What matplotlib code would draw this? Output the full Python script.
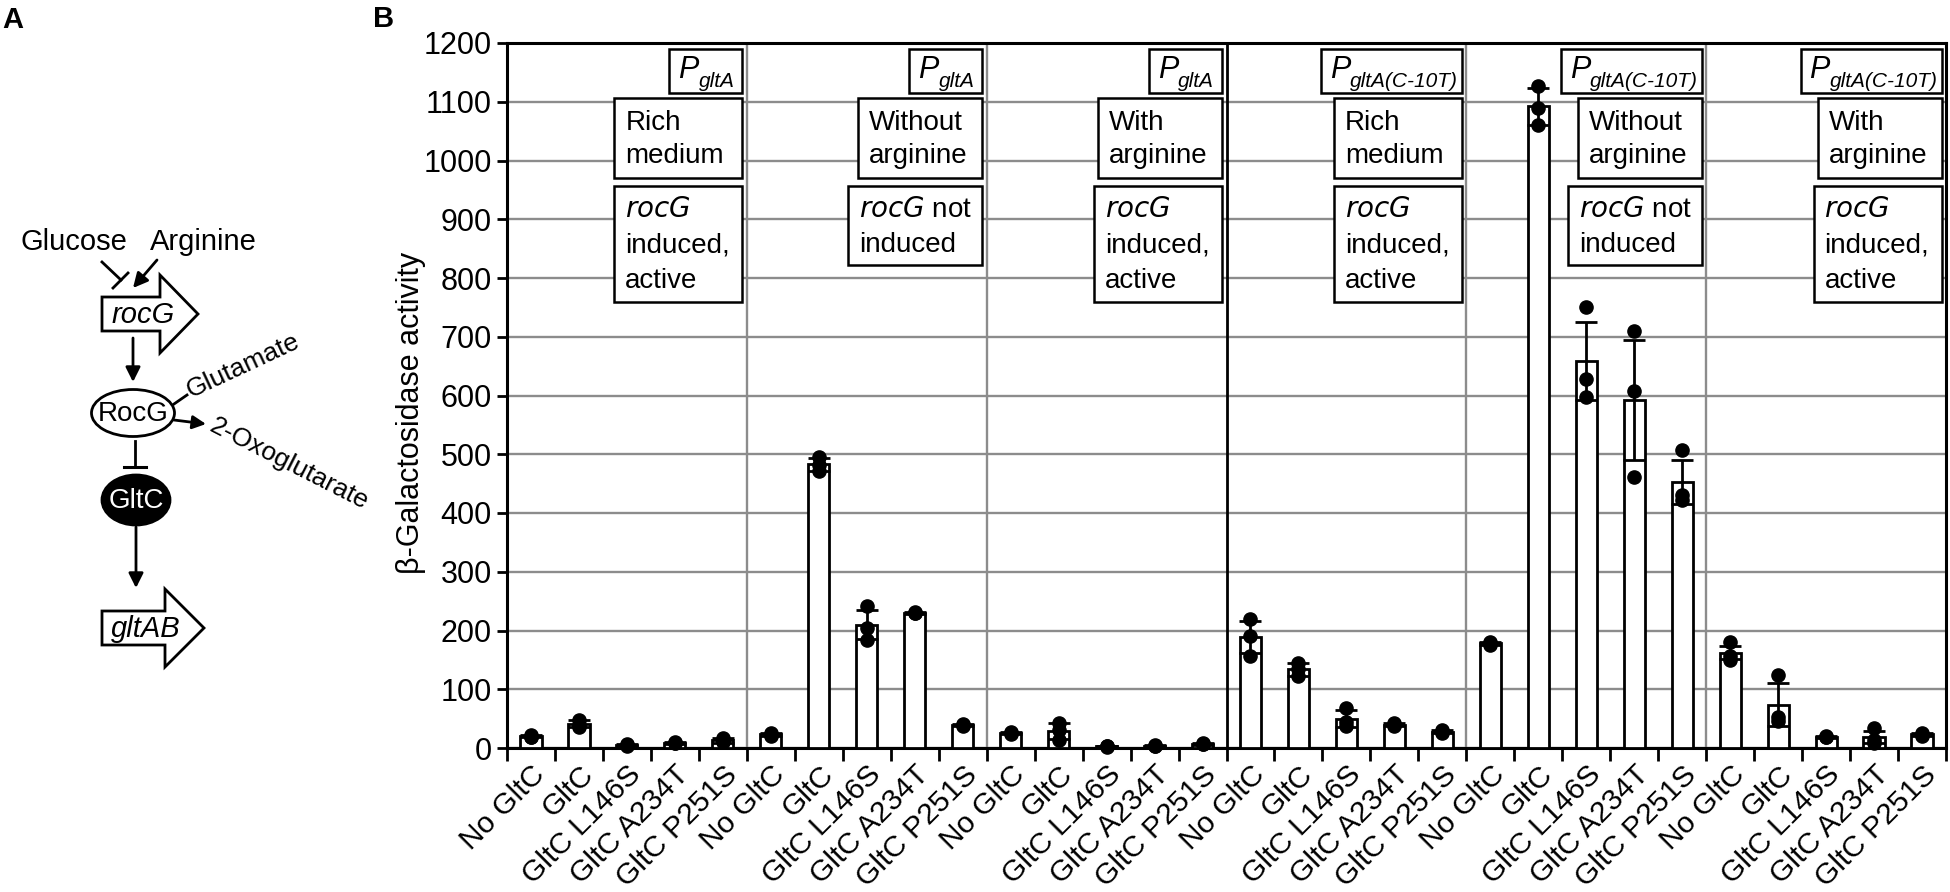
import matplotlib
matplotlib.use('Agg')
import matplotlib.pyplot as plt
from matplotlib.patches import Rectangle, Ellipse, Polygon
import numpy as np

plt.rcParams['font.family'] = ['Liberation Sans', 'DejaVu Sans']

# ---- data ----
strains = ['No GltC', 'GltC', 'GltC L146S', 'GltC A234T', 'GltC P251S']
promoters = ['gltA', 'gltA', 'gltA', 'gltA(C-10T)', 'gltA(C-10T)', 'gltA(C-10T)']
conditions = [['Rich', 'medium'], ['Without', 'arginine'], ['With', 'arginine'],
              ['Rich', 'medium'], ['Without', 'arginine'], ['With', 'arginine']]
rocg_induced = [True, False, True, True, False, True]

means = [20, 41, 5, 9, 13,
         23, 483, 210, 230, 39,
         25, 29, 3, 4, 7,
         189, 134, 50, 40, 28,
         178, 1092, 659, 593, 453,
         162, 74, 19, 19, 23]
errs = [2, 6, 1, 2, 4,
        3, 11, 25, 2, 2,
        2, 14, 1, 1, 2,
        28, 11, 15, 3, 2,
        2, 32, 66, 102, 37,
        11, 36, 2, 10, 3]
reps = [[22, 18, 19], [47, 40, 36], [6, 4, 5], [11, 8, 8], [17, 12, 10],
        [26, 22, 21], [496, 481, 472], [242, 204, 184], [232, 229, 229], [41, 37, 39],
        [27, 23, 25], [43, 30, 14], [3, 4, 2], [5, 4, 3], [9, 6, 6],
        [220, 190, 157], [145, 135, 122], [68, 45, 37], [38, 40, 42], [26, 30, 28],
        [176, 178, 180], [1127, 1090, 1060], [750, 628, 598], [709, 607, 462], [507, 430, 422],
        [180, 157, 149], [124, 52, 46], [18, 20, 18], [34, 14, 9], [25, 22, 21]]
yticks = list(range(0, 1201, 100))

W, H = 1950, 892
fig = plt.figure(figsize=(W / 100, H / 100), dpi=100)

# chart area in pixels
AX_L, AX_R, AX_T, AX_B = 507, 1946, 43, 748
ax = fig.add_axes([AX_L / W, 1 - AX_B / H, (AX_R - AX_L) / W, (AX_B - AX_T) / H])

# overlay in pixel coordinates (panel A + condition boxes)
pa = fig.add_axes([0, 0, 1, 1], zorder=5)
pa.set_xlim(0, W)
pa.set_ylim(H, 0)
pa.axis('off')

# ---- panel B: bars ----
n = len(means)
x = np.arange(n) + 0.5
labels = strains * 6
grey = '#8c8c8c'

ax.set_xlim(0, n)
ax.set_ylim(0, 1200)
ax.bar(x, means, width=0.44, color='white', edgecolor='black', linewidth=2, zorder=3)
ax.errorbar(x, means, yerr=errs, fmt='none', ecolor='black', elinewidth=2,
            capsize=8, capthick=2, zorder=4)
for i, r in enumerate(reps):
    ax.plot([x[i]] * len(r), r, 'o', color='black', ms=9.5, zorder=5, clip_on=False)

ax.set_yticks(yticks)
ax.yaxis.grid(True, color=grey, linewidth=1.7)
ax.set_axisbelow(True)
for k in range(1, 6):
    if k == 3:
        ax.axvline(5 * k, color='black', linewidth=2.0, zorder=2)
    else:
        ax.axvline(5 * k, color=grey, linewidth=1.7, zorder=1)

ax.set_xticks(x)
ax.set_xticklabels(labels, rotation=45, ha='right', rotation_mode='anchor', fontsize=21.5)
ax.tick_params(axis='x', which='major', length=0, pad=9)
ax.set_xticks(np.arange(n + 1), minor=True)
ax.tick_params(axis='x', which='minor', length=9, width=2, direction='out')
ax.tick_params(axis='y', length=7, width=2, labelsize=22, pad=4)
for s in ax.spines.values():
    s.set_linewidth(2.2)
    s.set_color('black')

fig.text(411 / W, 1 - 413 / H, 'β-Galactosidase activity', rotation=90,
         ha='center', va='center', fontsize=22)

fig.text(2 / W, 1 - 28 / H, 'A', fontsize=21, fontweight='bold', va='baseline')
fig.text(373 / W, 1 - 27 / H, 'B', fontsize=21, fontweight='bold', va='baseline')

# ---- condition boxes ----
slot = (AX_R - AX_L) / n


def box(x0, y0, x1, y1):
    pa.add_patch(Rectangle((x0, y0), x1 - x0, y1 - y0, facecolor='white',
                           edgecolor='black', linewidth=1.8, zorder=3))


for g in range(6):
    right = AX_L + slot * 5 * (g + 1) - 4.5
    # promoter
    pw = 73 if promoters[g] == 'gltA' else 141
    box(right - pw, 49, right, 93)
    ptxt = pa.text(right - pw + 9, 78, 'P', fontsize=22, style='italic',
                   va='baseline', ha='left', zorder=4)
    pa.annotate(promoters[g], xy=(1, 0), xycoords=ptxt, xytext=(0, -4),
                textcoords='offset points', fontsize=15, style='italic',
                va='bottom', ha='left', zorder=4)
    # growth condition
    cw = 128 if conditions[g][0] == 'Rich' else 124
    box(right - cw, 98, right, 178)
    for j, line in enumerate(conditions[g]):
        pa.text(right - cw + 11, 130 + 33 * j, line, fontsize=20,
                va='baseline', ha='left', zorder=4)
    # rocG state
    if rocg_induced[g]:
        lines = [r'$\mathit{rocG}$', 'induced,', 'active']
        rw, rb = 128, 302
    else:
        lines = [r'$\mathit{rocG}$ not', 'induced']
        rw, rb = 134, 265
    box(right - rw, 186, right, rb)
    for j, line in enumerate(lines):
        pa.text(right - rw + 11, 217 + 35.5 * j, line, fontsize=20,
                va='baseline', ha='left', zorder=4)

# ---- panel A: regulation scheme ----
k = 'black'


def arrow(start, tip, scale=22):
    pa.annotate('', xy=tip, xytext=start,
                arrowprops=dict(arrowstyle='-|>', color=k, lw=2,
                                mutation_scale=scale, shrinkA=0, shrinkB=0))


def gene(x0, xh, xt, yc, name):
    pts = [(x0, yc - 17), (xh, yc - 17), (xh, yc - 39), (xt, yc),
           (xh, yc + 39), (xh, yc + 17), (x0, yc + 17)]
    pa.add_patch(Polygon(pts, closed=True, facecolor='white', edgecolor=k, linewidth=2))
    pa.text((x0 + xh) / 2 + 12, yc + 1, name, fontsize=21, style='italic',
            ha='center', va='center')


pa.text(20, 250, 'Glucose', fontsize=21, va='baseline')
pa.text(150, 250, 'Arginine', fontsize=21, va='baseline')
pa.plot([102, 121], [262, 280], color=k, lw=2)
pa.plot([113, 128], [288, 273], color=k, lw=2)
arrow((157, 260), (133, 288))

gene(102, 160, 198, 314, 'rocG')
arrow((133, 338), (133, 382))

pa.add_patch(Ellipse((133, 413), 83, 47, facecolor='white', edgecolor=k, linewidth=2))
pa.text(133, 414, 'RocG', fontsize=20, ha='center', va='center')
pa.plot([174, 187], [404, 395], color=k, lw=2)
pa.text(191, 398, 'Glutamate', fontsize=19, rotation=25, rotation_mode='anchor',
        ha='left', va='baseline')
arrow((174, 420), (206, 424), scale=20)
pa.text(208, 431, '2-Oxoglutarate', fontsize=19, rotation=-27, rotation_mode='anchor',
        ha='left', va='baseline')

pa.plot([135, 135], [441, 467], color=k, lw=2)
pa.plot([124, 146], [467, 467], color=k, lw=2.2)
pa.add_patch(Ellipse((136, 500), 68, 50, facecolor=k, edgecolor=k, linewidth=2))
pa.text(136, 501, 'GltC', fontsize=20, color='white', ha='center', va='center')
arrow((136, 527), (136, 588))
gene(102, 165, 204, 628, 'gltAB')

fig.savefig('out.png', dpi=100)
